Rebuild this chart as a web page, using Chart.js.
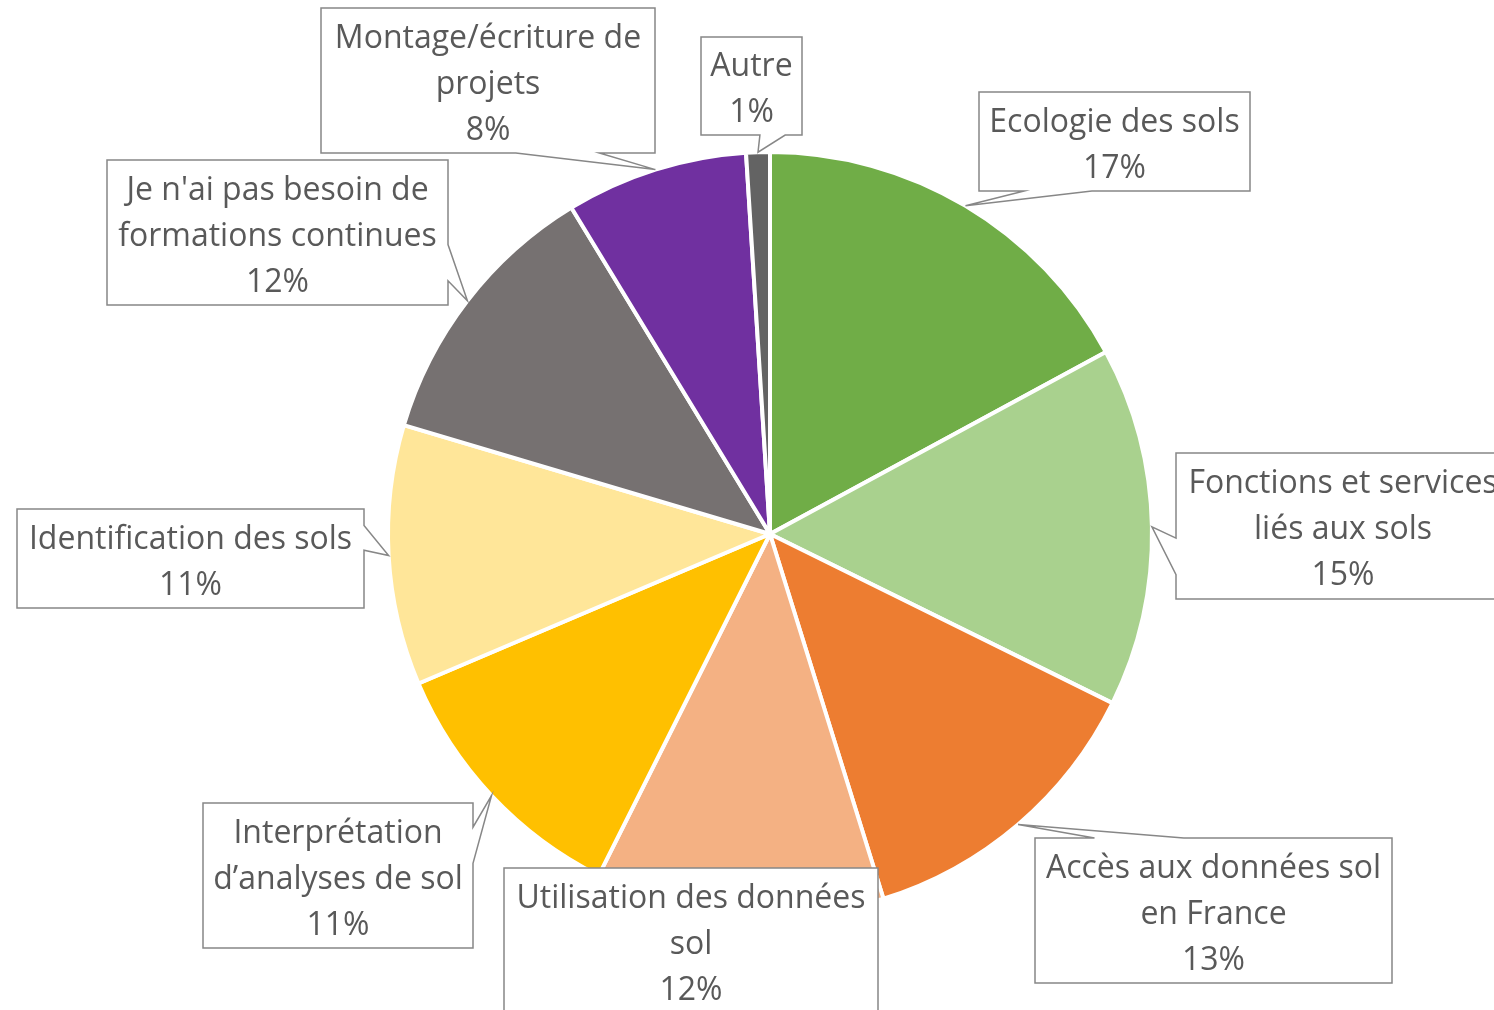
<!DOCTYPE html>
<html><head><meta charset="utf-8">
<script src="https://cdn.jsdelivr.net/npm/chart.js@4"></script>
<style>html,body{margin:0;padding:0;background:#fff;overflow:hidden}#wrap{width:1494px;height:1010px;position:relative}</style>
</head><body><div id="wrap"><canvas id="c"></canvas></div>
<script>
// ---- data ----
const categories = ["Ecologie des sols", "Fonctions et services liés aux sols", "Accès aux données sol en France", "Utilisation des données sol", "Interprétation d’analyses de sol", "Identification des sols", "Je n'ai pas besoin de formations continues", "Montage/écriture de projets", "Autre"];
const labelLines = [["Ecologie des sols"], ["Fonctions et services", "liés aux sols"], ["Accès aux données sol", "en France"], ["Utilisation des données", "sol"], ["Interprétation", "d’analyses de sol"], ["Identification des sols"], ["Je n'ai pas besoin de", "formations continues"], ["Montage/écriture de", "projets"], ["Autre"]];
const shares = [17.1, 15.2, 12.9, 12.2, 11.2, 11.0, 11.7, 7.7, 1.0];
const colors = ["#70AD47", "#A9D18E", "#ED7D31", "#F4B183", "#FFC000", "#FFE699", "#767171", "#7030A0", "#636363"];
// label box layout: [left, top, width, height]
const boxes = [[979, 92, 271, 99], [1176, 453, 334, 146], [1035, 838, 357, 145], [504, 868, 374, 146], [203, 803, 270, 145], [17, 509, 347, 99], [107, 160, 341, 145], [321, 8, 334, 145], [701, 37, 101, 98]];

const FONT = '32px "Open Sans"';
const LINE_H = 46;
const TEXT_SHIFT = 4;

function calloutPath(ctx, l, t, w, h, xPos, yPos) {
  const r = l + w, b = t + h, hc = l + w / 2, vc = t + h / 2;
  const inside = xPos >= l && xPos <= r && yPos >= t && yPos <= b;
  ctx.beginPath();
  if (inside) { ctx.rect(l, t, w, h); return; }
  const dxPos = xPos - hc, dyPos = yPos - vc;
  const dq = dxPos * h / w;
  const dz = Math.abs(dyPos) - Math.abs(dq);
  const xg1 = dxPos > 0 ? 7 : 2, xg2 = dxPos > 0 ? 10 : 5;
  const yg1 = dyPos > 0 ? 7 : 2, yg2 = dyPos > 0 ? 10 : 5;
  const x1 = l + w * xg1 / 12, x2 = l + w * xg2 / 12;
  const y1 = t + h * yg1 / 12, y2 = t + h * yg2 / 12;
  const side = dz > 0 ? (dyPos < 0 ? 'top' : 'bottom') : (dxPos < 0 ? 'left' : 'right');
  ctx.moveTo(l, t);
  if (side === 'top') { ctx.lineTo(x1, t); ctx.lineTo(xPos, yPos); ctx.lineTo(x2, t); }
  ctx.lineTo(r, t);
  if (side === 'right') { ctx.lineTo(r, y1); ctx.lineTo(xPos, yPos); ctx.lineTo(r, y2); }
  ctx.lineTo(r, b);
  if (side === 'bottom') { ctx.lineTo(x2, b); ctx.lineTo(xPos, yPos); ctx.lineTo(x1, b); }
  ctx.lineTo(l, b);
  if (side === 'left') { ctx.lineTo(l, y2); ctx.lineTo(xPos, yPos); ctx.lineTo(l, y1); }
  ctx.closePath();
}

const calloutPlugin = {
  id: 'callouts',
  afterDatasetsDraw(chart) {
    const ctx = chart.ctx;
    const meta = chart.getDatasetMeta(0);
    const data = chart.data.datasets[0].data;
    const total = data.reduce((a, v) => a + v, 0);
    ctx.save();
    meta.data.forEach((arc, i) => {
      const p = arc.getProps(['x', 'y', 'startAngle', 'endAngle', 'outerRadius']);
      const mid = (p.startAngle + p.endAngle) / 2;
      const tx = p.x + Math.cos(mid) * p.outerRadius;
      const ty = p.y + Math.sin(mid) * p.outerRadius;
      const [l, t, w, h] = boxes[i];
      calloutPath(ctx, l, t, w, h, tx, ty);
      ctx.fillStyle = '#ffffff';
      ctx.fill();
      ctx.lineWidth = 1.5;
      ctx.strokeStyle = '#878787';
      ctx.lineJoin = 'miter';
      ctx.stroke();
      const lines = labelLines[i].concat([Math.round(data[i] / total * 100) + '%']);
      ctx.fillStyle = '#595959';
      ctx.font = FONT;
      ctx.textAlign = 'center';
      ctx.textBaseline = 'middle';
      const cy = t + h / 2 + TEXT_SHIFT;
      lines.forEach((s, k) => {
        ctx.fillText(s, l + w / 2, cy + (k - (lines.length - 1) / 2) * LINE_H);
      });
    });
    ctx.restore();
  }
};

new Chart(document.getElementById('c'), {
  type: 'pie',
  data: {
    labels: categories,
    datasets: [{
      data: shares,
      backgroundColor: colors,
      borderColor: '#ffffff',
      borderWidth: 4,
      hoverOffset: 0,
      offset: 0
    }]
  },
  options: {
    responsive: true,
    maintainAspectRatio: false,
    animation: false,
    radius: 382,
    layout: { padding: { left: 46, right: 0, top: 58, bottom: 0 } },
    plugins: { legend: { display: false }, tooltip: { enabled: false } },
    events: []
  },
  plugins: [calloutPlugin]
});
</script>
</body></html>
